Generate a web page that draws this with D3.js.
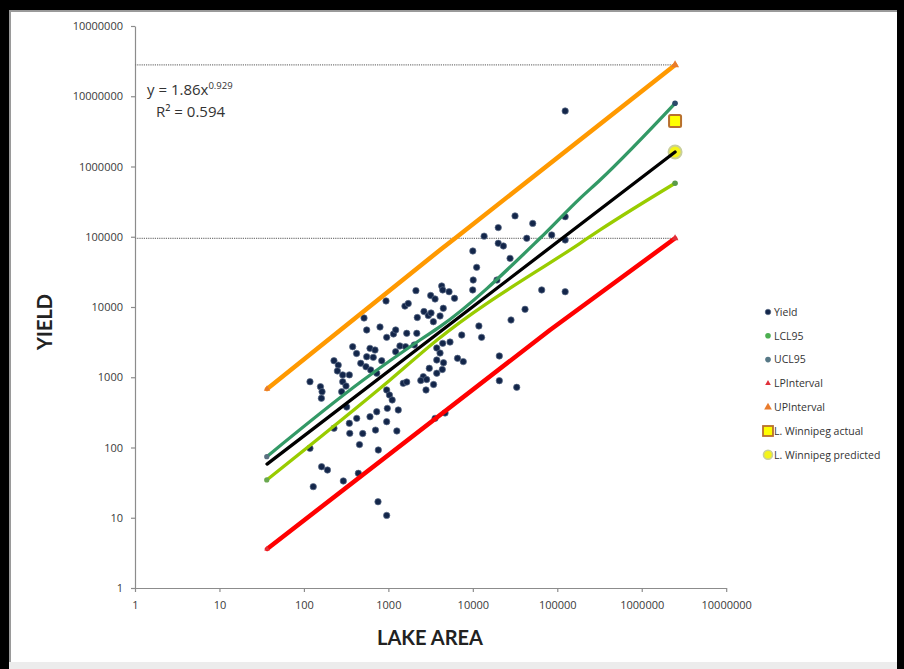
<!DOCTYPE html>
<html><head><meta charset="utf-8">
<script src="https://cdn.jsdelivr.net/npm/d3@7"></script>
<style>body{margin:0;background:#fff}svg{display:block}</style>
</head><body>
<svg id="c" width="904" height="669"></svg>
<script>
// ---- DATA ----
const yieldArea = [124000,31600,51200,20000,13600,43500,85900,124000,124000,20000,23000,10000,27600,11100,10100,9970,65400,124000,2120,4280,4400,3170,3570,5230,6070,938,19300,
1570,1720,4470,2640,2970,3200,2200,4090,3410,515,554,796,955,1150,1220,1650,2170,7390,12700,11800,28300,41500,
5370,4400,3740,4090,3740,4500,6590,7710,3050,4350,20600,378,420,606,695,1220,1370,1600,2030,227,255,249,471,543,618,728,554,663,834,288,345,2590,3740,2420,2840,3430,2790,1500,1650,20600,33100,
118,157,164,161,288,315,280,955,1030,1110,972,1310,728,606,422,345,321,4690,3570,
227,497,704,955,1260,349,455,118,760,162,190,129,293,441,754,955];
const yieldValue = [6170000,198000,155000,135000,102000,95100,106000,193000,89900,80700,73900,62700,49300,36700,24200,17500,17500,16500,17100,19900,17500,14600,13000,16500,13300,12200,24200,
10300,11200,9590,8630,7570,8220,7090,7450,6180,6970,4710,5190,3700,4130,4710,4220,4220,3990,3700,5370,6530,9270,
3170,3040,2610,2210,1760,1610,1860,1670,1340,1290,2010,2720,2180,2580,2440,2310,2790,2720,2880,1720,1490,1230,1580,1410,1270,1140,1960,1920,1720,1080,1080,1020,1140,899,929,789,659,820,856,893,719,
864,734,623,502,864,751,623,659,559,475,361,342,323,274,260,221,377,310,260,
188,158,177,233,172,159,110,97.4,92.1,53.3,47.8,27.7,33.4,42.9,16.9,10.8];

const lclArea  = [36.3, 1047, 3770, 186000, 321000, 2480000];
const lclValue = [34.5, 914, 3390, 80700, 125000, 577000];
const uclArea  = [36.3, 505, 2370, 4090, 62500, 186000, 321000, 2480000];
const uclValue = [74, 914, 3390, 5250, 95100, 352000, 643000, 7940000];
const lpiArea  = [36.6, 82000, 2480000];
const lpiValue = [3.6, 4710, 95100];
const upiArea  = [36.6, 4090, 6450, 2480000];
const upiValue = [681, 64800, 99300, 27900000];
const trendArea  = [36.6, 2480000];
const trendValue = [58, 1610000];
const winnipegArea = 2480000;
const winnipegActual = 4440000;
const winnipegPredicted = 1610000;
const refLineValues = [27900000, 95100];

const xTicks = [1,10,100,1000,10000,100000,1000000,10000000];
const xTickLabels = ["1","10","100","1000","10000","100000","1000000","10000000"];
const yTicks = [1,10,100,1000,10000,100000,1000000,10000000,100000000];
const yTickLabels = ["1","10","100","1000","10000","100000","1000000","10000000","10000000"];
const legendLabels = ["Yield","LCL95","UCL95","LPInterval","UPInterval","L. Winnipeg actual","L. Winnipeg predicted"];

// ---- DRAW ----
const svg = d3.select("#c");
const W = 904, H = 669;
const font = "'Open Sans', 'Liberation Sans', sans-serif";

// frame
svg.append("rect").attr("x",0).attr("y",0).attr("width",W).attr("height",H).attr("fill","#fff");
svg.append("rect").attr("x",0).attr("y",0).attr("width",W).attr("height",10).attr("fill","#000");
svg.append("rect").attr("x",0).attr("y",0).attr("width",9).attr("height",H).attr("fill","#000");
svg.append("rect").attr("x",897).attr("y",0).attr("width",7).attr("height",H).attr("fill","#000");
svg.append("rect").attr("x",9).attr("y",10).attr("width",888).attr("height",2).attr("fill","#9a9a9a");
svg.append("rect").attr("x",9).attr("y",10).attr("width",2).attr("height",H-10).attr("fill","#9a9a9a");
svg.append("rect").attr("x",9).attr("y",662).attr("width",888).attr("height",7).attr("fill","#ececec");

const x = d3.scaleLog().domain([1,1e7]).range([135, 726.2]);
const y = d3.scaleLog().domain([1,1e8]).range([588, 26]);

// axes
const ax = svg.append("g").attr("transform","translate(0,588)")
  .call(d3.axisBottom(x).tickValues(xTicks).tickFormat((d,i)=>xTickLabels[i]).tickSize(4).tickPadding(9).tickSizeOuter(0));
const ay = svg.append("g").attr("transform","translate(135,0)")
  .call(d3.axisLeft(y).tickValues(yTicks).tickFormat((d,i)=>yTickLabels[i]).tickSize(4).tickPadding(8).tickSizeOuter(0));
[ax,ay].forEach(g=>{
  g.select(".domain").attr("stroke","#8c8c8c").attr("stroke-width",1.2);
  g.selectAll(".tick line").attr("stroke","#8c8c8c").attr("stroke-width",1.2);
  g.selectAll(".tick text").attr("fill","#3a3a3a").style("font-family",font).style("font-size","11px");
});

// reference dotted lines
svg.append("g").selectAll("line").data(refLineValues).join("line")
  .attr("x1",x(1)).attr("x2",x(winnipegArea))
  .attr("y1",d=>y(d)).attr("y2",d=>y(d))
  .attr("stroke","#7a7a7a").attr("stroke-width",1.3).attr("stroke-dasharray","1.2,1");

// yield points
svg.append("g").selectAll("circle").data(yieldArea).join("circle")
  .attr("cx",(d)=>x(d)).attr("cy",(d,i)=>y(yieldValue[i])).attr("r",3.2)
  .attr("fill","#13264a").attr("stroke","#5d6d88").attr("stroke-width",0.7);

const line = d3.line().x(d=>x(d[0])).y(d=>y(d[1]));
const smooth = d3.line().x(d=>x(d[0])).y(d=>y(d[1])).curve(d3.curveMonotoneX);
function drawLine(xs, ys, color, w, gen){
  const pts = xs.map((v,i)=>[v, ys[i]]);
  svg.append("path").datum(pts).attr("d",gen || line).attr("fill","none")
    .attr("stroke",color).attr("stroke-width",w).attr("stroke-linejoin","round").attr("stroke-linecap","round");
  return pts;
}
drawLine(upiArea, upiValue, "#ff9900", 4.5);
drawLine(lpiArea, lpiValue, "#ff0000", 4.5);
drawLine(lclArea, lclValue, "#99cc00", 3.3, smooth);
drawLine(uclArea, uclValue, "#339966", 3.3, smooth);

// end markers
const tri = d3.symbol().type(d3.symbolTriangle);
svg.append("path").attr("d",tri.size(28)()).attr("transform",`translate(${x(upiArea[upiArea.length-1])},${y(upiValue[upiValue.length-1])})`).attr("fill","#e97b2c");
svg.append("path").attr("d",tri.size(20)()).attr("transform",`translate(${x(lpiArea[lpiArea.length-1])},${y(lpiValue[lpiValue.length-1])})`).attr("fill","#e0303a");
svg.append("circle").attr("cx",x(uclArea[uclArea.length-1])).attr("cy",y(uclValue[uclValue.length-1])).attr("r",2.8).attr("fill","#2b4a6a");
svg.append("circle").attr("cx",x(lclArea[lclArea.length-1])).attr("cy",y(lclValue[lclValue.length-1])).attr("r",2.8).attr("fill","#5a9a4a");
svg.append("path").attr("d",tri.size(18)()).attr("transform",`translate(${x(upiArea[0])},${y(upiValue[0])})`).attr("fill","#e97b2c");
svg.append("path").attr("d",tri.size(14)()).attr("transform",`translate(${x(lpiArea[0])},${y(lpiValue[0])})`).attr("fill","#e0303a");
svg.append("circle").attr("cx",x(uclArea[0])).attr("cy",y(uclValue[0])).attr("r",2.6).attr("fill","#5a7080");
svg.append("circle").attr("cx",x(lclArea[0])).attr("cy",y(lclValue[0])).attr("r",2.6).attr("fill","#6aa84f");

// Winnipeg markers
svg.append("rect").attr("x",x(winnipegArea)-6).attr("y",y(winnipegActual)-6).attr("width",12).attr("height",12).attr("rx",1.5)
  .attr("fill","#ffff00").attr("stroke","#b8702e").attr("stroke-width",2);
svg.append("circle").attr("cx",x(winnipegArea)).attr("cy",y(winnipegPredicted)).attr("r",6.5)
  .attr("fill","#f4f41a").attr("stroke","#c9cf9a").attr("stroke-width",2);

// trendline on top
drawLine(trendArea, trendValue, "#000000", 3.3);

// equation
const eq = svg.append("text").attr("x",147).attr("y",95).attr("fill","#333").style("font-family",font).style("font-size","15px");
eq.append("tspan").text("y = 1.86x");
eq.append("tspan").attr("dy",-6).style("font-size","9.5px").text("0.929");
svg.append("text").attr("x",156).attr("y",117).attr("fill","#333").style("font-family",font).style("font-size","15px").text("R² = 0.594");

// axis titles
svg.append("text").attr("x",430).attr("y",645).attr("text-anchor","middle").attr("fill","#222")
  .style("font-family","Lato, sans-serif").style("font-weight","bold").style("font-size","20px").text("LAKE AREA");
svg.append("text").attr("transform","translate(52,322) rotate(-90)").attr("text-anchor","middle").attr("fill","#222")
  .style("font-family","Lato, sans-serif").style("font-weight","bold").style("font-size","20px").text("YIELD");

// legend
const lg = svg.append("g").attr("transform","translate(768,312)");
const rows = lg.selectAll("g").data(legendLabels).join("g").attr("transform",(d,i)=>`translate(0,${i*23.8})`);
rows.append("text").attr("x",6).attr("y",3.8).attr("fill","#333").style("font-family",font).style("font-size","10.5px").text(d=>d);
rows.each(function(d,i){
  const g = d3.select(this);
  if(i===0) g.append("circle").attr("r",2.8).attr("fill","#13264a").attr("stroke","#5d6d88").attr("stroke-width",0.6);
  if(i===1) g.append("circle").attr("r",2.8).attr("fill","#4caf50");
  if(i===2) g.append("circle").attr("r",2.8).attr("fill","#567886");
  if(i===3) g.append("path").attr("d",tri.size(14)()).attr("fill","#e0303a");
  if(i===4) g.append("path").attr("d",tri.size(26)()).attr("fill","#e97b2c");
  if(i===5) g.append("rect").attr("x",-5).attr("y",-5).attr("width",10).attr("height",10).attr("fill","#ffff00").attr("stroke","#b8702e").attr("stroke-width",1.8);
  if(i===6) g.append("circle").attr("r",4.5).attr("fill","#f4f41a").attr("stroke","#c9cf9a").attr("stroke-width",1.6);
});
</script>
</body></html>
